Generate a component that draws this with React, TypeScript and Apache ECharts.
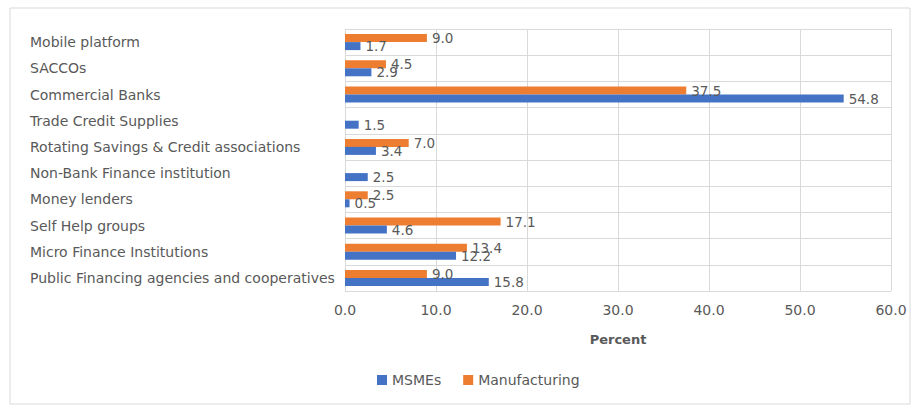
import React, { useEffect, useRef } from "react";
import * as echarts from "echarts";

const categories = [
  "Public Financing agencies and cooperatives",
  "Micro Finance Institutions",
  "Self Help groups",
  "Money lenders",
  "Non-Bank Finance institution",
  "Rotating Savings & Credit associations",
  "Trade Credit Supplies",
  "Commercial Banks",
  "SACCOs",
  "Mobile platform",
];
const msmes = [15.8, 12.2, 4.6, 0.5, 2.5, 3.4, 1.5, 54.8, 2.9, 1.7];
const manufacturing = [9.0, 13.4, 17.1, 2.5, null, 7.0, null, 37.5, 4.5, 9.0];
const xTicks = { min: 0, max: 60, interval: 10 };

const FONT = "DejaVu Sans";
const GRAY = "#595959";

export default function App() {
  const ref = useRef<HTMLDivElement>(null);
  useEffect(() => {
    const chart = echarts.init(ref.current!, null, { renderer: "svg" });
    const labelCfg = {
      show: true,
      position: "right" as const,
      distance: 5,
      color: GRAY,
      fontFamily: FONT,
      fontSize: 13.5,
      formatter: (p: any) => (p.value == null ? "" : Number(p.value).toFixed(1)),
    };
    chart.setOption({
      animation: false,
      textStyle: { fontFamily: FONT },
      graphic: [
        {
          type: "rect",
          shape: { x: 10, y: 8, width: 900, height: 396 },
          style: { fill: "none", stroke: "#d9d9d9", lineWidth: 1 },
          silent: true,
        },
      ],
      grid: { left: 345, right: 29, top: 29, bottom: 118 },
      legend: {
        bottom: 17,
        left: 372,
        itemWidth: 10,
        itemHeight: 10,
        itemGap: 22,
        icon: "rect",
        textStyle: { color: GRAY, fontSize: 14, fontFamily: FONT },
        data: ["MSMEs", "Manufacturing"],
      },
      xAxis: {
        type: "value",
        min: xTicks.min,
        max: xTicks.max,
        interval: xTicks.interval,
        name: "Percent",
        nameLocation: "middle",
        nameGap: 42,
        nameTextStyle: { fontWeight: "bold", color: GRAY, fontSize: 13, fontFamily: FONT },
        axisLine: { show: false },
        axisTick: { show: false },
        axisLabel: {
          color: GRAY,
          fontSize: 14,
          margin: 12,
          fontFamily: FONT,
          formatter: (v: number) => v.toFixed(1),
        },
        splitLine: { show: true, lineStyle: { color: "#d9d9d9", width: 1 } },
      },
      yAxis: {
        type: "category",
        data: categories,
        axisLine: { show: false },
        axisTick: { show: false },
        axisLabel: {
          color: GRAY,
          fontSize: 14,
          fontFamily: FONT,
          align: "left",
          margin: 315,
        },
        splitLine: { show: true, lineStyle: { color: "#d9d9d9", width: 1 } },
      },
      series: [
        {
          name: "Manufacturing",
          type: "bar",
          data: manufacturing,
          barWidth: 8,
          barGap: "0%",
          itemStyle: { color: "#ED7D31" },
          label: labelCfg,
        },
        {
          name: "MSMEs",
          type: "bar",
          data: msmes,
          barWidth: 8,
          barGap: "0%",
          itemStyle: { color: "#4472C4" },
          label: labelCfg,
        },
      ],
    });
    return () => chart.dispose();
  }, []);
  return (
    <div
      ref={ref}
      style={{ position: "fixed", left: 0, top: 0, width: 920, height: 409, background: "#fff" }}
    />
  );
}
